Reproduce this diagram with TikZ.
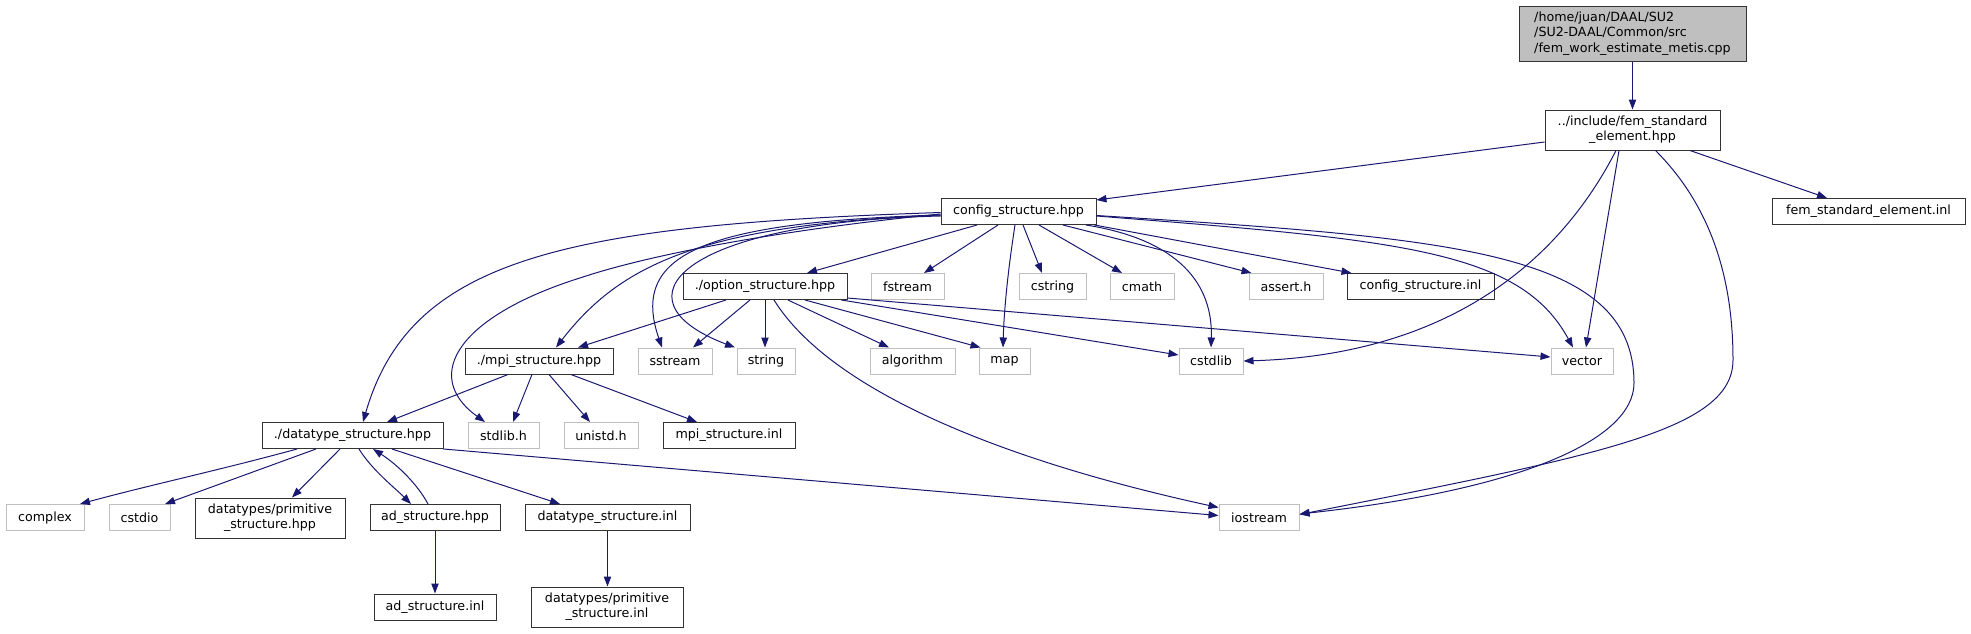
\documentclass[tikz,border=0pt]{standalone}
\usepackage{fontspec}
\setmainfont{DejaVu Sans}
\usetikzlibrary{arrows.meta,calc}
\definecolor{edgecol}{HTML}{191970}
\definecolor{sysgray}{HTML}{BFBFBF}
\definecolor{topfill}{HTML}{BFBFBF}
\tikzset{
  nbox/.style={draw=black!80,line width=0.75pt,fill=white,inner sep=0pt,align=center,font=\fontsize{9.5}{11.4}\selectfont},
  doc/.style={nbox},
  sys/.style={nbox,draw=sysgray},
  bx/.style 2 args={minimum width=#1*0.75pt,minimum height=#2*0.75pt},
  dep/.style={draw=edgecol,line width=0.75pt,-{Triangle[length=7.5pt,width=5.5pt]}}
}
\begin{document}
\begin{tikzpicture}[x=0.75pt,y=-0.75pt]
\useasboundingbox (0,0) rectangle (1971,633);

% nodes
\node[doc,bx={227}{55},fill=topfill,align=left] (top) at (1632.5,33.5) {/home/juan/DAAL/SU2\\/SU2-DAAL/Common/src\\/fem\_work\_estimate\_metis.cpp};
\node[doc,bx={175}{40}] (fem) at (1632.5,130) {../include/fem\_standard\\\_element.hpp};
\node[doc,bx={193}{26}] (feminl) at (1868.5,211.5) {fem\_standard\_element.inl};
\node[doc,bx={155}{26}] (config) at (1018.5,211.5) {config\_structure.hpp};
\node[doc,bx={164}{26}] (option) at (765,286.5) {./option\_structure.hpp};
\node[sys,bx={73}{26}] (fstream) at (907.5,286.5) {fstream};
\node[sys,bx={67}{26}] (cstring) at (1052.5,286.5) {cstring};
\node[sys,bx={64}{26}] (cmath) at (1142,286.5) {cmath};
\node[sys,bx={74}{26}] (assert) at (1286,286.5) {assert.h};
\node[doc,bx={147}{26}] (cinl) at (1420.5,286.5) {config\_structure.inl};
\node[doc,bx={148}{26}] (mpi) at (539,361) {./mpi\_structure.hpp};
\node[sys,bx={74}{26}] (sstream) at (675,361) {sstream};
\node[sys,bx={58}{26}] (string) at (766,361) {string};
\node[sys,bx={85}{26}] (algorithm) at (912.5,361) {algorithm};
\node[sys,bx={51}{26}] (map) at (1004.5,361) {map};
\node[sys,bx={64}{26}] (cstdlib) at (1211,361) {cstdlib};
\node[sys,bx={62}{26}] (vector) at (1582,361) {vector};
\node[doc,bx={181}{26}] (datatype) at (352.5,435.5) {./datatype\_structure.hpp};
\node[sys,bx={71}{26}] (stdlib) at (503.5,435.5) {stdlib.h};
\node[sys,bx={74}{26}] (unistd) at (601,435.5) {unistd.h};
\node[doc,bx={132}{26}] (mpiinl) at (729,435.5) {mpi\_structure.inl};
\node[sys,bx={78}{26}] (complex) at (45,517.5) {complex};
\node[sys,bx={61}{26}] (cstdio) at (139.5,517.5) {cstdio};
\node[doc,bx={150}{40}] (primhpp) at (270,518) {datatypes/primitive\\\_structure.hpp};
\node[doc,bx={130}{26}] (adhpp) at (435,517.5) {ad\_structure.hpp};
\node[doc,bx={165}{26}] (dtinl) at (607.5,517.5) {datatype\_structure.inl};
\node[sys,bx={80}{26}] (iostream) at (1259,517.5) {iostream};
\node[doc,bx={122}{26}] (adinl) at (435,607) {ad\_structure.inl};
\node[doc,bx={152}{40}] (priminl) at (607,607) {datatypes/primitive\\\_structure.inl};

% edges from top / fem
\draw[dep] (top.south) -- (fem.north);
\draw[dep] ($(fem.west)+(0,12)$) -- ($(config.north east)+(0,2)$);
\draw[dep] ($(fem.south)+(57.5,0)$) -- ($(feminl.north)+(-41.5,0)$);
\draw[dep] ($(fem.south)+(-16.5,0)$) .. controls (1560,260) and (1450,355) .. (cstdlib.east);
\draw[dep] ($(fem.south)+(-13.5,0)$) -- ($(vector.north)+(4,0)$);
\draw[dep] ($(fem.south)+(23,0)$) .. controls (1700,195) and (1733,260) .. (1733,360)
  .. controls (1733,430) and (1600,455) .. ($(iostream.east)+(0,-3)$);

% edges from config
\draw[dep] ($(config.west)+(0,1)$) .. controls (560,225) and (410,260) .. ($(datatype.north)+(10.5,0)$);
\draw[dep] ($(config.west)+(0,2.5)$) .. controls (760,232) and (640,258) .. (583,277)
  .. controls (460,315) and (420,375) .. ($(stdlib.north)+(-18.5,0)$);
\draw[dep] ($(config.west)+(0,3.5)$) .. controls (700,225) and (620,265) .. ($(mpi.north)+(17,0)$);
\draw[dep] ($(config.west)+(0,3.5)$) .. controls (700,222) and (630,255) .. ($(sstream.north)+(-13,0)$);
\draw[dep] ($(config.west)+(0,4.5)$) .. controls (680,222) and (610,300) .. ($(string.north)+(-31,0)$);
\draw[dep] ($(config.south)+(-41.5,0)$) -- ($(option.north)+(42,0)$);
\draw[dep] ($(config.south)+(-20.5,0)$) -- ($(fstream.north)+(16.5,0)$);
\draw[dep] ($(config.south)+(-3.5,0)$) .. controls (1008,270) and (1004,310) .. ($(map.north)+(-1.5,0)$);
\draw[dep] ($(config.south)+(4.5,0)$) -- ($(cstring.north)+(-10.5,0)$);
\draw[dep] ($(config.south)+(20.5,0)$) -- ($(cmath.north)+(-20,0)$);
\draw[dep] ($(config.south)+(67.5,0)$) .. controls (1180,240) and (1213,285) .. (cstdlib.north);
\draw[dep] ($(config.south)+(44.5,0)$) -- ($(assert.north west)+(3,0)$);
\draw[dep] ($(config.south east)+(-2,0)$) -- ($(cinl.north west)+(5,0)$);
\draw[dep] ($(config.east)+(0,4.5)$) .. controls (1400,240) and (1520,250) .. ($(vector.north)+(-9,0)$);
\draw[dep] ($(config.east)+(0,4)$) .. controls (1450,238) and (1634,250) .. (1634,383)
  .. controls (1634,440) and (1520,490) .. ($(iostream.east)+(0,-3.5)$);

% edges from option
\draw[dep] ($(option.south)+(-39,0)$) -- ($(mpi.north)+(39,0)$);
\draw[dep] ($(option.south)+(-15,0)$) -- ($(sstream.north)+(18,0)$);
\draw[dep] (option.south) -- (option.south |- string.north);
\draw[dep] ($(option.south)+(23,0)$) -- ($(algorithm.north)+(-23.5,0)$);
\draw[dep] ($(option.south)+(40,0)$) -- ($(map.north west)+(2,0)$);
\draw[dep] ($(option.south east)+(-6,0)$) -- ($(cstdlib.west)+(0,-6)$);
\draw[dep] ($(option.south east)+(0,-2)$) -- ($(vector.west)+(0,-4)$);
\draw[dep] ($(option.south)+(9,0)$) .. controls (830,390) and (1000,460) .. ($(iostream.west)+(0,-10)$);

% edges from mpi
\draw[dep] ($(mpi.south)+(-31,0)$) -- ($(datatype.north)+(34.5,0)$);
\draw[dep] ($(mpi.south)+(-7,0)$) -- ($(stdlib.north)+(9.5,0)$);
\draw[dep] ($(mpi.south)+(10,0)$) -- ($(unistd.north)+(-11,0)$);
\draw[dep] ($(mpi.south)+(32,0)$) -- ($(mpiinl.north)+(-32,0)$);

% edges from datatype
\draw[dep] ($(datatype.south)+(-55.5,0)$) .. controls (220,470) and (150,485) .. ($(complex.north)+(35,0)$);
\draw[dep] ($(datatype.south)+(-36.5,0)$) -- ($(cstdio.north)+(25.5,0)$);
\draw[dep] ($(datatype.south)+(-12.5,0)$) -- ($(primhpp.north)+(22,0)$);
\draw[dep] ($(datatype.south)+(6.5,0)$) .. controls (372,470) and (395,488) .. ($(adhpp.north)+(-24,0)$);
\draw[dep] ($(adhpp.north)+(-7,0)$) .. controls (418,485) and (398,465) .. ($(datatype.south)+(20.5,0)$);
\draw[dep] ($(datatype.south)+(39.5,0)$) -- ($(dtinl.north)+(-47.5,0)$);
\draw[dep] (datatype.south east) -- ($(iostream.west)+(0,-2)$);
\draw[dep] (adhpp.south) -- (adinl.north);
\draw[dep] (dtinl.south) -- (dtinl.south |- priminl.north);
\end{tikzpicture}
\end{document}
